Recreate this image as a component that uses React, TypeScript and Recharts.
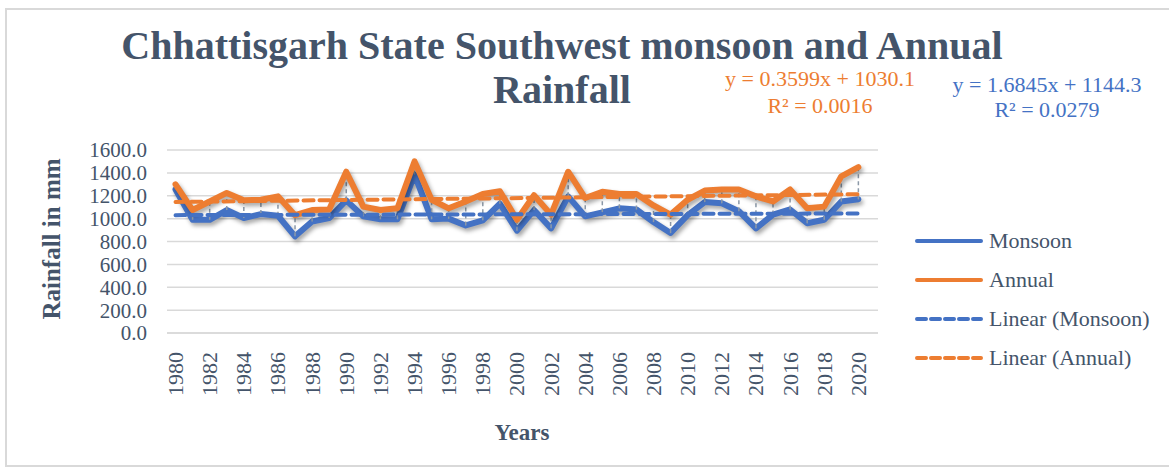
import React from 'react';
import { LineChart, Line, XAxis, YAxis, CartesianGrid, Legend, ErrorBar } from 'recharts';

const years = [
  1980, 1981, 1982, 1983, 1984, 1985, 1986, 1987, 1988, 1989,
  1990, 1991, 1992, 1993, 1994, 1995, 1996, 1997, 1998, 1999,
  2000, 2001, 2002, 2003, 2004, 2005, 2006, 2007, 2008, 2009,
  2010, 2011, 2012, 2013, 2014, 2015, 2016, 2017, 2018, 2019, 2020,
];

const monsoon = [
  1255, 990, 990, 1075, 1005, 1040, 1025, 845, 975, 1005,
  1160, 1020, 995, 995, 1385, 995, 1000, 940, 985, 1130,
  895, 1075, 915, 1195, 1020, 1055, 1090, 1080, 970, 875,
  1030, 1145, 1135, 1065, 915, 1035, 1080, 960, 990, 1150, 1170,
];

const annual = [
  1300, 1075, 1150, 1225, 1160, 1165, 1195, 1030, 1075, 1080,
  1410, 1105, 1075, 1090, 1500, 1165, 1090, 1150, 1215, 1240,
  990, 1205, 1035, 1410, 1180, 1235, 1215, 1215, 1115, 1035,
  1165, 1245, 1255, 1255, 1195, 1150, 1255, 1090, 1105, 1370, 1450,
];

// Trend line end points (first year, last year)
const monsoonTrend = [1030.5, 1044.9];
const annualTrend = [1146.0, 1213.4];

const yTicks = [0, 200, 400, 600, 800, 1000, 1200, 1400, 1600];
const xTicks = [
  1980, 1982, 1984, 1986, 1988, 1990, 1992, 1994, 1996, 1998, 2000,
  2002, 2004, 2006, 2008, 2010, 2012, 2014, 2016, 2018, 2020,
];

const BLUE = '#4472C4';
const ORANGE = '#ED7D31';
const TEXT = '#44546A';
const GRID = '#D9D9D9';
const FONT = '"Liberation Serif", "Times New Roman", serif';

const data = years.map((year, i) => ({
  year,
  Monsoon: monsoon[i],
  Annual: annual[i],
  hl: [annual[i] - monsoon[i], 0],
  MonsoonTrend: i === 0 ? monsoonTrend[0] : i === years.length - 1 ? monsoonTrend[1] : null,
  AnnualTrend: i === 0 ? annualTrend[0] : i === years.length - 1 ? annualTrend[1] : null,
}));

const legendItems = [
  { name: 'Monsoon', color: BLUE, dash: undefined },
  { name: 'Annual', color: ORANGE, dash: undefined },
  { name: 'Linear (Monsoon)', color: BLUE, dash: '9 5' },
  { name: 'Linear (Annual)', color: ORANGE, dash: '9 5' },
];

const XTick = (props: any) => {
  const { x, y, payload } = props;
  const ty = y + 19;
  return (
    <text
      x={x}
      y={ty}
      transform={`rotate(-90 ${x} ${ty})`}
      textAnchor="end"
      dominantBaseline="central"
      fontFamily={FONT}
      fontSize={22}
      fill={TEXT}
    >
      {payload.value}
    </text>
  );
};

const LegendContent = () => (
  <div style={{ fontFamily: FONT, fontSize: 22, color: TEXT }}>
    {legendItems.map((it) => (
      <div key={it.name} style={{ display: 'flex', alignItems: 'center', height: 39 }}>
        <svg width={70} height={10} style={{ marginRight: 5 }}>
          <line
            x1={3}
            y1={5}
            x2={67}
            y2={5}
            stroke={it.color}
            strokeWidth={4}
            strokeDasharray={it.dash}
            strokeLinecap="round"
          />
        </svg>
        <span>{it.name}</span>
      </div>
    ))}
  </div>
);

export default function App() {
  return (
    <div style={{ position: 'absolute', left: 0, top: 0, width: 1169, height: 467, background: '#fff', overflow: 'hidden' }}>
      <style>{`.shadowline .recharts-line-curve { filter: drop-shadow(2px 3px 2px rgba(0,0,0,0.35)); }`}</style>
      <div
        style={{
          position: 'absolute',
          left: 5,
          top: 8,
          width: 1200,
          height: 455,
          border: `2px solid ${GRID}`,
        }}
      />
      <div
        style={{
          position: 'absolute',
          left: 0,
          top: 24,
          width: 1124,
          textAlign: 'center',
          fontFamily: FONT,
          fontWeight: 'bold',
          fontSize: 40,
          lineHeight: '44px',
          color: TEXT,
        }}
      >
        Chhattisgarh State Southwest monsoon and Annual
        <br />
        Rainfall
      </div>
      <div
        style={{
          position: 'absolute',
          left: 715,
          top: 65,
          width: 210,
          textAlign: 'center',
          fontFamily: FONT,
          fontSize: 22,
          lineHeight: '27px',
          color: ORANGE,
        }}
      >
        y = 0.3599x + 1030.1
        <br />
        R² = 0.0016
      </div>
      <div
        style={{
          position: 'absolute',
          left: 942,
          top: 72,
          width: 210,
          textAlign: 'center',
          fontFamily: FONT,
          fontSize: 22,
          lineHeight: '25px',
          color: BLUE,
        }}
      >
        y = 1.6845x + 1144.3
        <br />
        R² = 0.0279
      </div>
      <div
        style={{
          position: 'absolute',
          left: 52,
          top: 239,
          transform: 'translate(-50%, -50%) rotate(-90deg)',
          whiteSpace: 'nowrap',
          fontFamily: FONT,
          fontWeight: 'bold',
          fontSize: 25,
          color: TEXT,
        }}
      >
        Rainfall in mm
      </div>
      <div
        style={{
          position: 'absolute',
          left: 522,
          top: 433,
          transform: 'translate(-50%, -50%)',
          whiteSpace: 'nowrap',
          fontFamily: FONT,
          fontWeight: 'bold',
          fontSize: 23,
          color: TEXT,
        }}
      >
        Years
      </div>
      <div style={{ position: 'absolute', left: 0, top: 0 }}>
        <LineChart
          width={1169}
          height={467}
          data={data}
          margin={{ top: 150, right: 291, bottom: 74, left: 87 }}
        >
          <CartesianGrid vertical={false} stroke={GRID} strokeWidth={1.5} />
          <XAxis
            dataKey="year"
            type="number"
            domain={[1979.5, 2021.15]}
            ticks={xTicks}
            interval={0}
            tick={<XTick />}
            tickLine={false}
            tickSize={0}
            tickMargin={0}
            axisLine={{ stroke: GRID, strokeWidth: 1.5 }}
            height={60}
            allowDataOverflow
          />
          <YAxis
            domain={[0, 1600]}
            ticks={yTicks}
            interval={0}
            tickFormatter={(v: number) => v.toFixed(1)}
            tickLine={false}
            axisLine={false}
            tickSize={0}
            tickMargin={20}
            width={80}
            tick={{ fontFamily: FONT, fontSize: 21, fill: TEXT }}
          />
          <Legend
            layout="horizontal"
            align="center"
            verticalAlign="middle"
            wrapperStyle={{ left: 914, top: 221, width: 255 }}
            content={<LegendContent />}
          />
          <Line
            className="shadowline"
            type="linear"
            dataKey="Monsoon"
            stroke={BLUE}
            strokeWidth={6}
            strokeLinejoin="round"
            strokeLinecap="round"
            dot={false}
            isAnimationActive={false}
          />
          <Line
            className="shadowline"
            type="linear"
            dataKey="Annual"
            stroke={ORANGE}
            strokeWidth={6}
            strokeLinejoin="round"
            strokeLinecap="round"
            dot={false}
            isAnimationActive={false}
          >
            <ErrorBar dataKey="hl" direction="y" width={0} stroke="#8C99A8" strokeWidth={1.5} strokeDasharray="4 3" />
          </Line>
          <Line
            type="linear"
            dataKey="MonsoonTrend"
            stroke={BLUE}
            strokeWidth={4}
            strokeDasharray="10 6"
            strokeLinecap="round"
            connectNulls
            dot={false}
            isAnimationActive={false}
          />
          <Line
            type="linear"
            dataKey="AnnualTrend"
            stroke={ORANGE}
            strokeWidth={4}
            strokeDasharray="10 6"
            strokeLinecap="round"
            connectNulls
            dot={false}
            isAnimationActive={false}
          />
        </LineChart>
      </div>
    </div>
  );
}
